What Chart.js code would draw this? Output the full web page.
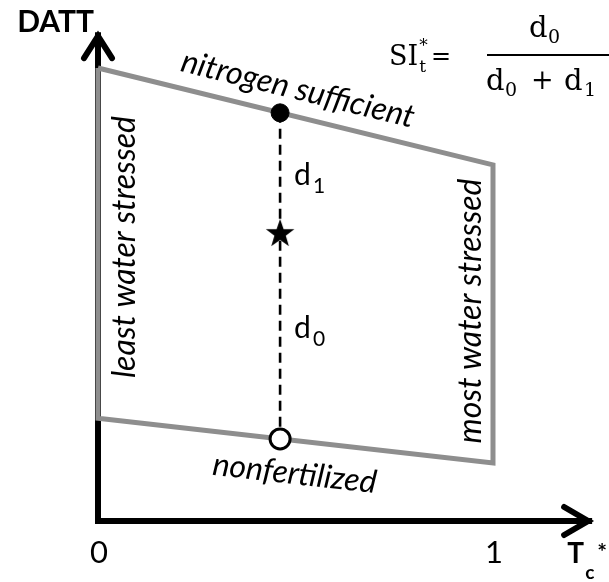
<!DOCTYPE html>
<html><head><meta charset="utf-8">
<script src="https://cdn.jsdelivr.net/npm/chart.js@4.4.0/dist/chart.umd.min.js"></script>
<style>html,body{margin:0;padding:0;background:#fff;}#wrap{width:609px;height:582px;position:relative;}</style>
</head><body><div id="wrap"><canvas id="c" width="609" height="582"></canvas></div>
<script>
// ---------- data ----------
const boundaryTc   = [0, 1, 1, 0, 0];                 // Tc* of the trapezoid corners
const boundaryDATT = [1.0, 0.786, 0.128, 0.227, 1.0]; // DATT of the trapezoid corners
const sampleTc     = 0.461;                           // Tc* of the example plot
const sampleDATT   = [0.901, 0.636, 0.181];           // nitrogen sufficient, observed (star), nonfertilized
const axisTcEnd    = 1.251;                           // end of the Tc* arrow
const axisDATTEnd  = 1.079;                           // end of the DATT arrow
const tickValues   = [0, 1];
const tickLabels   = ['0', '1'];
const edgeLabels   = ['nitrogen sufficient', 'most water stressed', 'nonfertilized', 'least water stressed'];
const distLabels   = [['d', '1'], ['d', '0']];

const GRAY = '#8e8e8e';
const LFONT = 'Lato, "Open Sans", sans-serif';
const MFONT = '"DejaVu Serif", serif';

// filled five-point star marker
const starImg = (() => {
  const c = document.createElement('canvas'); c.width = 32; c.height = 32;
  const g = c.getContext('2d'); g.beginPath();
  for (let k = 0; k < 10; k++) {
    const r = k % 2 === 0 ? 15 : 6;
    const a = -Math.PI / 2 + k * Math.PI / 5;
    g.lineTo(16 + r * Math.cos(a), 17 + r * Math.sin(a));
  }
  g.closePath(); g.fillStyle = '#000'; g.fill();
  return c;
})();

const pts = (xs, ys) => xs.map((v, i) => ({ x: v, y: ys[i] }));

function subText(ctx, base, sub, x, y, size, subSize, dy) {
  ctx.font = `${size}px ${LFONT}`;
  ctx.textAlign = 'left'; ctx.textBaseline = 'alphabetic';
  ctx.fillText(base, x, y);
  const w = ctx.measureText(base).width;
  ctx.font = `${subSize}px ${LFONT}`;
  ctx.fillText(sub, x + w + 2, y + dy);
}

const decorPlugin = {
  id: 'decor',
  afterDatasetsDraw(chart) {
    const { ctx } = chart; const xs = chart.scales.x, ys = chart.scales.y;
    const P = (x, y) => ({ x: xs.getPixelForValue(x), y: ys.getPixelForValue(y) });
    const c = boundaryTc.map((v, i) => P(v, boundaryDATT[i]));
    ctx.save();
    ctx.fillStyle = '#000'; ctx.strokeStyle = '#000';
    // arrow heads
    const o = P(0, 0), ty = P(0, axisDATTEnd), tx = P(axisTcEnd, 0);
    ctx.lineWidth = 6; ctx.lineCap = 'round'; ctx.lineJoin = 'miter';
    ctx.beginPath(); ctx.moveTo(ty.x - 14, ty.y + 26); ctx.lineTo(ty.x, ty.y + 4); ctx.lineTo(ty.x + 14, ty.y + 26); ctx.stroke();
    ctx.beginPath(); ctx.moveTo(tx.x - 28, tx.y - 14); ctx.lineTo(tx.x - 4, tx.y); ctx.lineTo(tx.x - 28, tx.y + 14); ctx.stroke();

    const IF = `italic 32px ${LFONT}`;
    // edge labels (italic)
    function edgeText(txt, p0, p1, along, off) {
      const mx = (p0.x + p1.x) / 2, my = (p0.y + p1.y) / 2;
      const a = Math.atan2(p1.y - p0.y, p1.x - p0.x);
      ctx.save(); ctx.translate(mx, my); ctx.rotate(a);
      ctx.font = IF; ctx.textAlign = 'center'; ctx.textBaseline = 'middle';
      ctx.fillText(txt, along, off); ctx.restore();
    }
    edgeText(edgeLabels[0], c[0], c[1], -4, -27);
    edgeText(edgeLabels[2], c[3], c[2], 3, 33);
    // vertical labels
    function vText(txt, x, y) {
      ctx.save(); ctx.translate(x, y); ctx.rotate(-Math.PI / 2);
      ctx.font = IF; ctx.textAlign = 'center'; ctx.textBaseline = 'middle';
      ctx.fillText(txt, 0, 0); ctx.restore();
    }
    vText(edgeLabels[3], c[0].x + 27, (c[0].y + c[3].y) / 2 + 4);
    vText(edgeLabels[1], c[1].x - 22, (c[1].y + c[2].y) / 2 - 3);

    // distance labels d1, d0
    const s = sampleDATT.map(v => P(sampleTc, v));
    subText(ctx, distLabels[0][0], distLabels[0][1], s[0].x + 14, (s[0].y + s[1].y) / 2 + 12, 30, 21, 8);
    subText(ctx, distLabels[1][0], distLabels[1][1], s[0].x + 14, (s[1].y + s[2].y) / 2 + 2, 30, 21, 8);

    // tick labels
    ctx.font = `31px ${LFONT}`; ctx.textAlign = 'center'; ctx.textBaseline = 'alphabetic';
    tickValues.forEach((v, i) => ctx.fillText(tickLabels[i], P(v, 0).x + 1, o.y + 42));

    // axis titles
    ctx.font = `bold 30px ${LFONT}`; ctx.textAlign = 'right';
    ctx.fillText('DATT', o.x - 4, ty.y);
    ctx.textAlign = 'left';
    ctx.font = `bold 28px ${LFONT}`; ctx.fillText('T', tx.x - 25, o.y + 42);
    ctx.font = `bold 19px ${LFONT}`; ctx.fillText('c', tx.x - 7, o.y + 58);
    ctx.font = `bold 23px ${LFONT}`; ctx.fillText('*', tx.x + 5, o.y + 39);

    // formula  SI*_t = d0 / (d0 + d1)
    ctx.textAlign = 'left';
    ctx.font = `27px ${MFONT}`; ctx.fillText('SI', 389, 65);
    const sx = 389 + ctx.measureText('SI').width + 1;
    ctx.font = `17px ${MFONT}`; ctx.fillText('*', sx, 51); ctx.fillText('t', sx, 72);
    const ex = sx + ctx.measureText('t').width + 5;
    ctx.font = `24px ${MFONT}`; ctx.fillText('=', Math.max(ex, 429), 64);
    ctx.fillRect(487, 54, 122, 2);
    ctx.font = `29px ${MFONT}`; ctx.fillText('d', 529, 37);
    ctx.font = `19px ${MFONT}`; ctx.fillText('0', 548, 43);
    ctx.font = `29px ${MFONT}`; ctx.fillText('d', 486, 90);
    ctx.font = `19px ${MFONT}`; ctx.fillText('0', 505, 96);
    ctx.font = `27px ${MFONT}`; ctx.fillText('+', 531, 89);
    ctx.font = `29px ${MFONT}`; ctx.fillText('d', 564, 90);
    ctx.font = `19px ${MFONT}`; ctx.fillText('1', 584, 96);
    ctx.restore();
  }
};

new Chart(document.getElementById('c'), {
  type: 'scatter',
  data: {
    datasets: [
      { data: [{ x: sampleTc, y: sampleDATT[0] }], pointStyle: 'circle', pointRadius: 9, backgroundColor: '#000', borderColor: '#000' },
      { data: [{ x: sampleTc, y: sampleDATT[1] }], pointStyle: starImg, pointRadius: 15 },
      { data: [{ x: sampleTc, y: sampleDATT[2] }], pointStyle: 'circle', pointRadius: 10, pointBorderWidth: 3, backgroundColor: '#fff', borderColor: '#000' },
      { data: [{ x: sampleTc, y: sampleDATT[0] }, { x: sampleTc, y: sampleDATT[2] }], showLine: true, borderColor: '#000', borderWidth: 2.6, borderDash: [10, 6], pointRadius: 0 },
      { data: pts(boundaryTc, boundaryDATT), showLine: true, borderColor: GRAY, borderWidth: 5, pointRadius: 0, borderJoinStyle: 'miter' },
      { data: [{ x: 0, y: axisDATTEnd }, { x: 0, y: 0 }, { x: axisTcEnd, y: 0 }], showLine: true, borderColor: '#000', borderWidth: 6, pointRadius: 0, borderJoinStyle: 'miter' }
    ]
  },
  options: {
    responsive: false, animation: false, events: [],
    layout: { padding: 0, autoPadding: false },
    scales: {
      x: { type: 'linear', display: false, min: -0.2481, max: 1.2937 },
      y: { type: 'linear', display: false, min: -0.1347, max: 1.1501 }
    },
    plugins: { legend: { display: false }, tooltip: { enabled: false } }
  },
  plugins: [decorPlugin]
});
</script></body></html>
